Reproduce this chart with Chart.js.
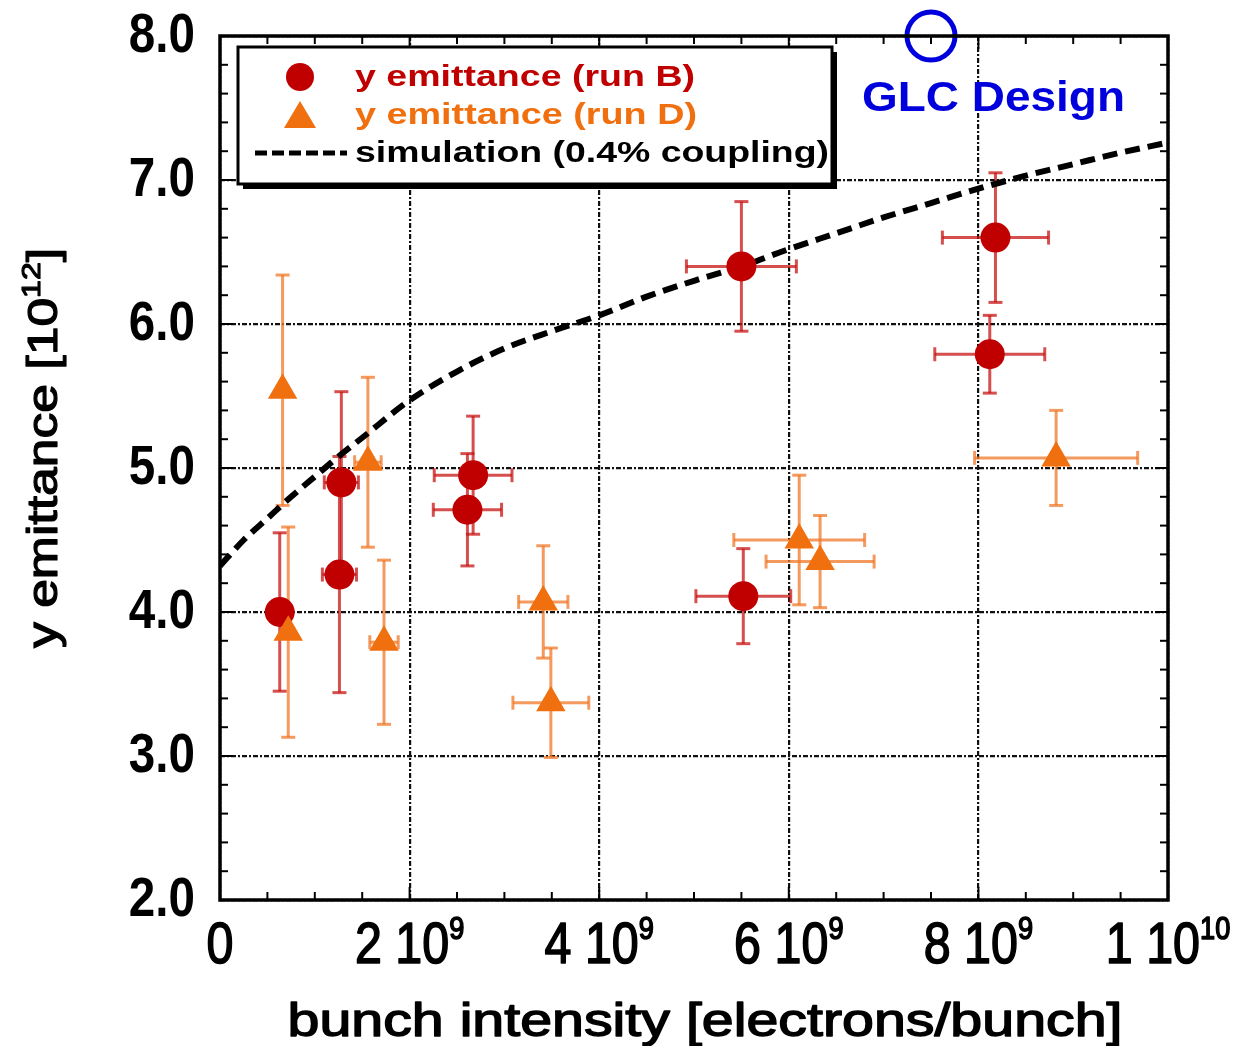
<!DOCTYPE html>
<html>
<head>
<meta charset="utf-8">
<script src="https://cdn.jsdelivr.net/npm/chart.js@4.4.0/dist/chart.umd.min.js"></script>
<style>
  html, body { margin: 0; padding: 0; background: #fff; overflow: hidden; }
  canvas { display: block; }
</style>
</head>
<body>
<canvas id="emit" width="1243" height="1046"></canvas>
<script>
// run B (circles)
const xB  = [0.63e9, 1.28e9, 1.26e9, 2.67e9, 2.61e9, 5.50e9, 8.18e9, 8.12e9, 5.52e9];
const yB  = [4.00, 4.90, 4.26, 4.95, 4.71, 6.40, 6.60, 5.79, 4.11];
const exB = [0, 0.18e9, 0.18e9, 0.41e9, 0.36e9, 0.58e9, 0.56e9, 0.58e9, 0.50e9];
const eyB = [0.55, 0.63, 0.82, 0.41, 0.39, 0.45, 0.45, 0.27, 0.33];

// run D (triangles)
const xD  = [0.66e9, 0.72e9, 1.56e9, 1.73e9, 3.41e9, 3.49e9, 6.11e9, 6.33e9, 8.82e9];
const yD  = [5.54, 3.86, 5.04, 3.79, 4.07, 3.37, 4.50, 4.35, 5.07];
const exD = [0, 0, 0.14e9, 0.15e9, 0.26e9, 0.40e9, 0.69e9, 0.57e9, 0.86e9];
const eyD = [0.80, 0.73, 0.59, 0.57, 0.39, 0.38, 0.45, 0.32, 0.33];

// simulation, 0.4% coupling
const simX = [0, 0.25e9, 0.5e9, 0.75e9, 1.0e9, 1.25e9, 1.5e9, 2.0e9, 2.5e9, 3.0e9, 3.5e9, 4.0e9,
              4.5e9, 5.0e9, 5.5e9, 6.0e9, 6.5e9, 7.0e9, 7.5e9, 8.0e9, 8.5e9, 9.0e9, 9.5e9, 1.0e10];
const simY = [4.32, 4.50, 4.65, 4.80, 4.94, 5.08, 5.21, 5.47, 5.67, 5.83, 5.95, 6.06,
              6.19, 6.30, 6.40, 6.52, 6.63, 6.74, 6.84, 6.94, 7.03, 7.11, 7.19, 7.26];

// design target
const glcX = [7.5e9];
const glcY = [8.0];

const yTickLabels = ['2.0', '3.0', '4.0', '5.0', '6.0', '7.0', '8.0'];
const xTickMant = ['0', '2 10', '4 10', '6 10', '8 10', '1 10'];
const xTickExp  = ['', '9', '9', '9', '9', '10'];
const legendLabels = ['y emittance (run B)', 'y emittance (run D)', 'simulation (0.4% coupling)'];

const RED = '#c00000', ORANGE = '#f07010', BLUE = '#0000dd';
const FONT = '"Liberation Sans", Arial, sans-serif';
const NARROW = 0.85;

const pts = (xs, ys) => xs.map((v, i) => ({ x: v, y: ys[i] }));

// draws a run of text pieces [text, font, raise] placed at cx,
// squeezed horizontally by sx (or stretched to targetW if given);
// heavy > 0 thickens the glyphs with an outline of that width
function drawParts(ctx, parts, cx, y, sx, targetW, align, heavy) {
  let total = 0;
  const widths = parts.map(([t, f]) => { ctx.font = f; const w = ctx.measureText(t).width; total += w; return w; });
  if (targetW) sx = targetW / total;
  const start = align === 'left' ? cx : align === 'right' ? cx - total * sx : cx - total * sx / 2;
  ctx.save();
  ctx.textAlign = 'left';
  ctx.translate(start, y);
  ctx.scale(sx, 1);
  if (heavy) { ctx.strokeStyle = ctx.fillStyle; ctx.lineWidth = heavy; ctx.lineJoin = 'round'; }
  let off = 0;
  parts.forEach(([t, f, raise], i) => {
    ctx.font = f;
    ctx.fillText(t, off, -(raise || 0));
    if (heavy) ctx.strokeText(t, off, -(raise || 0));
    off += widths[i];
  });
  ctx.restore();
}

function seg(ctx, x1, y1, x2, y2) {
  ctx.beginPath(); ctx.moveTo(x1, y1); ctx.lineTo(x2, y2); ctx.stroke();
}

const errorBars = {
  id: 'errorBars',
  beforeDatasetsDraw(chart) {
    const { ctx, scales: { x, y } } = chart;
    const cap = 7;
    ctx.save();
    ctx.lineWidth = 3;
    [[xB, yB, exB, eyB, 'rgba(200,20,20,0.75)'], [xD, yD, exD, eyD, 'rgba(242,120,40,0.75)']].forEach(([xs, ys, ex, ey, col]) => {
      ctx.strokeStyle = col;
      xs.forEach((v, i) => {
        const px = x.getPixelForValue(v), py = y.getPixelForValue(ys[i]);
        const t = y.getPixelForValue(ys[i] + ey[i]), b = y.getPixelForValue(ys[i] - ey[i]);
        seg(ctx, px, t, px, b);
        seg(ctx, px - cap, t, px + cap, t);
        seg(ctx, px - cap, b, px + cap, b);
        if (ex[i]) {
          const l = x.getPixelForValue(v - ex[i]), r = x.getPixelForValue(v + ex[i]);
          seg(ctx, l, py, r, py);
          seg(ctx, l, py - cap, l, py + cap);
          seg(ctx, r, py - cap, r, py + cap);
        }
      });
    });
    ctx.restore();
  }
};

const frame = {
  id: 'frame',
  afterDraw(chart) {
    const { ctx, chartArea: a, scales: { x, y } } = chart;
    ctx.save();
    ctx.strokeStyle = '#000';

    // inward ticks on all four sides
    ctx.lineWidth = 2;
    for (let k = 0; k <= 20; k++) {
      const px = x.getPixelForValue(k * 0.5e9);
      const len = k % 4 === 0 ? 13 : 8;
      seg(ctx, px, a.bottom, px, a.bottom - len);
      seg(ctx, px, a.top, px, a.top + len);
    }
    for (let k = 0; k <= 30; k++) {
      const py = y.getPixelForValue(2 + k * 0.2);
      const len = k % 5 === 0 ? 13 : 8;
      seg(ctx, a.left, py, a.left + len, py);
      seg(ctx, a.right, py, a.right - len, py);
    }
    ctx.lineWidth = 3.5;
    ctx.strokeRect(a.left, a.top, a.right - a.left, a.bottom - a.top);

    // tick labels
    ctx.fillStyle = '#000';
    ctx.textBaseline = 'middle';
    y.ticks.forEach((t, i) => {
      drawParts(ctx, [[yTickLabels[i], 'bold 56px ' + FONT]], 195, y.getPixelForValue(t.value) + 1, NARROW, null, 'right');
    });
    ctx.textBaseline = 'alphabetic';
    x.ticks.forEach((t, i) => {
      const parts = [[xTickMant[i], '57px ' + FONT]];
      if (xTickExp[i]) parts.push([xTickExp[i], '32px ' + FONT, 24]);
      drawParts(ctx, parts, x.getPixelForValue(t.value), 963, NARROW, null, 'center', 1.6);
    });

    // axis titles
    drawParts(ctx, [['bunch intensity [electrons/bunch]', '46px ' + FONT]], 705, 1036, 1, 835, 'center', 1.4);
    ctx.save();
    ctx.translate(57, 448);
    ctx.rotate(-Math.PI / 2);
    drawParts(ctx, [['y emittance [10', '42px ' + FONT], ['12', '26px ' + FONT, 17], [']', '42px ' + FONT]], 0, 0, 1, 400, 'center', 1.2);
    ctx.restore();

    // legend box with drop shadow
    const L = 238, T = 47, R = 832, B = 184;
    ctx.fillStyle = '#000';
    ctx.fillRect(L + 5, T + 5, R - L, B - T);
    ctx.fillStyle = '#fff';
    ctx.fillRect(L, T, R - L, B - T);
    ctx.lineWidth = 3;
    ctx.strokeRect(L, T, R - L, B - T);

    ctx.fillStyle = RED;
    ctx.beginPath(); ctx.arc(300, 77, 14, 0, Math.PI * 2); ctx.fill();
    ctx.fillStyle = ORANGE;
    ctx.beginPath(); ctx.moveTo(300, 101); ctx.lineTo(316, 128); ctx.lineTo(284, 128); ctx.closePath(); ctx.fill();
    ctx.strokeStyle = '#000';
    ctx.lineWidth = 5;
    ctx.setLineDash([12, 5]);
    seg(ctx, 255, 153, 347, 153);
    ctx.setLineDash([]);

    ctx.textBaseline = 'middle';
    const legendCols = [RED, ORANGE, '#000'];
    const legendW = [340, 342, 474];
    legendLabels.forEach((s, i) => {
      ctx.fillStyle = legendCols[i];
      drawParts(ctx, [[s, 'bold 30px ' + FONT]], 355, 78 + i * 38, 1, legendW[i], 'left');
    });

    ctx.fillStyle = BLUE;
    drawParts(ctx, [['GLC Design', 'bold 42px ' + FONT]], 862, 99, 1, 263, 'left');
    ctx.restore();
  }
};

new Chart(document.getElementById('emit'), {
  type: 'scatter',
  data: {
    datasets: [
      {
        label: 'GLC Design', data: pts(glcX, glcY), order: 0, clip: false,
        pointStyle: 'circle', pointRadius: 24, pointBorderWidth: 5,
        pointBorderColor: BLUE, pointBackgroundColor: 'rgba(0,0,0,0)'
      },
      {
        label: legendLabels[1], data: pts(xD, yD), order: 1,
        pointStyle: 'triangle', pointRadius: 17, pointBorderWidth: 0,
        pointBackgroundColor: ORANGE, pointBorderColor: ORANGE
      },
      {
        label: legendLabels[0], data: pts(xB, yB), order: 2,
        pointStyle: 'circle', pointRadius: 15, pointBorderWidth: 0,
        pointBackgroundColor: RED, pointBorderColor: RED
      },
      {
        label: legendLabels[2], data: pts(simX, simY), order: 3,
        showLine: true, pointRadius: 0, borderColor: '#000', borderWidth: 6,
        borderDash: [15, 8], cubicInterpolationMode: 'monotone', fill: false
      }
    ]
  },
  options: {
    responsive: false,
    animation: false,
    layout: { padding: { left: 220, top: 36, right: 75, bottom: 146 } },
    plugins: { legend: { display: false }, tooltip: { enabled: false } },
    scales: {
      x: {
        type: 'linear', min: 0, max: 1e10,
        ticks: { display: false, stepSize: 2e9 },
        grid: { color: '#111', lineWidth: 2.2, drawTicks: false },
        border: { display: false, dash: [5, 2, 2, 2] }
      },
      y: {
        type: 'linear', min: 2, max: 8,
        ticks: { display: false, stepSize: 1 },
        grid: { color: '#111', lineWidth: 2.2, drawTicks: false },
        border: { display: false, dash: [5, 2, 2, 2] }
      }
    }
  },
  plugins: [errorBars, frame]
});
</script>
</body>
</html>
